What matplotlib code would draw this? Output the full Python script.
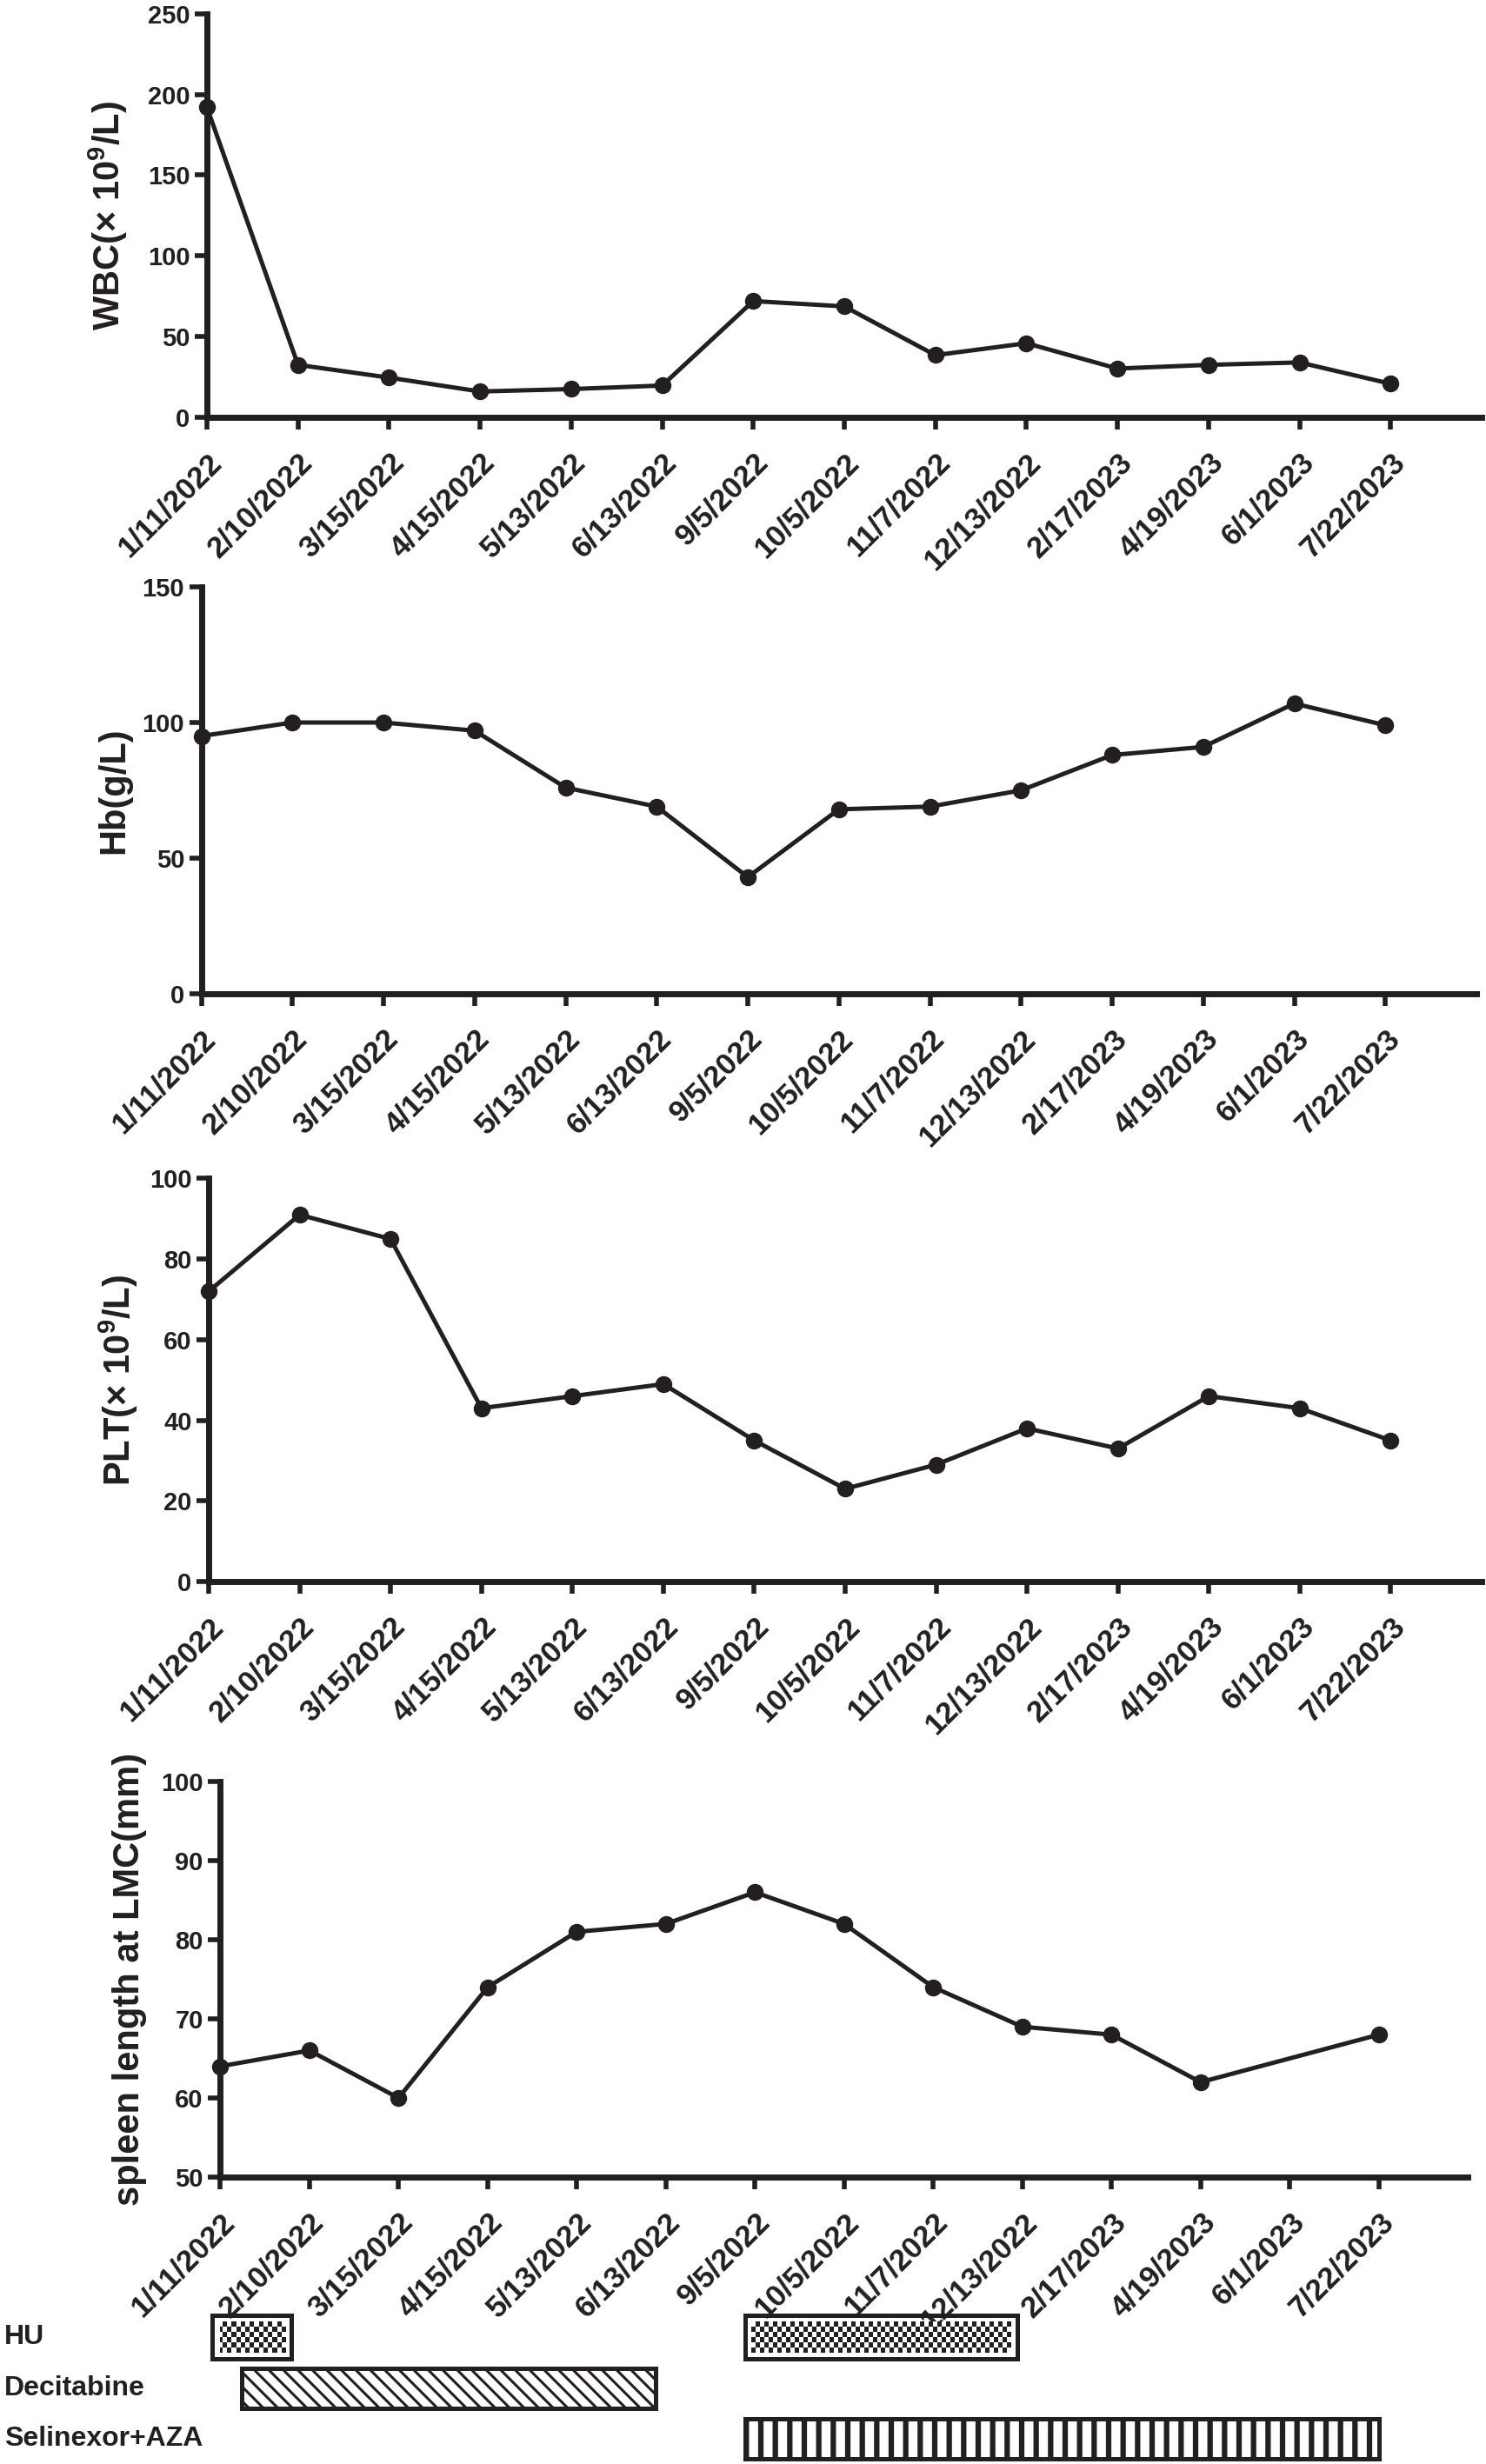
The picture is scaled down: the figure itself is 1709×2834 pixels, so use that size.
import matplotlib
matplotlib.use('Agg')
import matplotlib.pyplot as plt
import numpy as np
from matplotlib.colors import ListedColormap
from matplotlib.patches import Rectangle
from matplotlib.transforms import ScaledTranslation, blended_transform_factory

# ---------------- data ----------------
dates = ['1/11/2022', '2/10/2022', '3/15/2022', '4/15/2022', '5/13/2022',
         '6/13/2022', '9/5/2022', '10/5/2022', '11/7/2022', '12/13/2022',
         '2/17/2023', '4/19/2023', '6/1/2023', '7/22/2023']
wbc = [192, 32.5, 24.6, 16, 17.5, 19.7, 72, 68.7, 38.5, 45.9, 30.2, 32.5, 34, 20.8]
hb = [95, 100, 100, 97, 76, 69, 43, 68, 69, 75, 88, 91, 107, 99]
plt_count = [72, 91, 85, 43, 46, 49, 35, 23, 29, 38, 33, 46, 43, 35]
spleen = [64, 66, 60, 74, 81, 82, 86, 82, 74, 69, 68, 62, None, 68]

treatments = ['HU', 'Decitabine', 'Selinexor+AZA']
# treatment periods expressed in date-tick positions
hu_start, hu_end = [-0.09, 5.89], [0.80, 8.94]
dec_start, dec_end = [0.24], [4.88]
sel_start, sel_end = [5.89], [13.0]

wbc_ticks = [0, 50, 100, 150, 200, 250]
hb_ticks = [0, 50, 100, 150]
plt_ticks = [0, 20, 40, 60, 80, 100]
spleen_ticks = [50, 60, 70, 80, 90, 100]

# ---------------- style ----------------
FONT = ['Liberation Sans', 'DejaVu Sans']
plt.rcParams['font.family'] = FONT
plt.rcParams['font.weight'] = 'bold'
plt.rcParams['mathtext.fontset'] = 'custom'
plt.rcParams['mathtext.rm'] = 'Liberation Sans:bold'
plt.rcParams['mathtext.bf'] = 'Liberation Sans:bold'
plt.rcParams['mathtext.it'] = 'Liberation Sans:bold'
plt.rcParams['mathtext.default'] = 'bf'

C = '#231f20'
FIG_W, FIG_H, DPI = 1709, 2834, 100

fig = plt.figure(figsize=(FIG_W / DPI, FIG_H / DPI), dpi=DPI)
fig.patch.set_facecolor('white')


def px_rect(l, r, t, b):
    return [l / FIG_W, 1 - b / FIG_H, (r - l) / FIG_W, (b - t) / FIG_H]


panels = [
    (wbc, 'WBC(× 10$^{9}$/L)', (0, 250), wbc_ticks, (238, 1704, 15.7, 480), 149),
    (hb, 'Hb(g/L)', (0, 150), hb_ticks, (231.5, 1698, 675, 1143), 151),
    (plt_count, 'PLT(× 10$^{9}$/L)', (0, 100), plt_ticks, (240, 1704, 1355.5, 1819), 161),
    (spleen, 'spleen length at LMC(mm)', (50, 100), spleen_ticks, (253.3, 1688.3, 2049, 2504), 169),
]

x = np.arange(len(dates))
label_shift = ScaledTranslation(7 / DPI, 0, fig.dpi_scale_trans)

for vals, ylabel, ylim, yticks, rect, lab_x in panels:
    l, r, t, b = rect
    ax = fig.add_axes(px_rect(l, r, t, b))
    v = np.array([np.nan if q is None else q for q in vals], dtype=float)
    m = ~np.isnan(v)
    ax.plot(x[m], v[m], '-o', color=C, lw=3.6, ms=13, clip_on=False, zorder=5)
    ax.set_xlim(0, 14)
    ax.set_ylim(*ylim)
    for s in ['top', 'right']:
        ax.spines[s].set_visible(False)
    for s in ['left', 'bottom']:
        ax.spines[s].set_linewidth(5)
        ax.spines[s].set_color(C)
        ax.spines[s].set_capstyle('projecting')
    ax.set_xticks(x)
    ax.set_xticklabels(dates, rotation=45, ha='right', va='top',
                       rotation_mode='anchor', fontsize=25,
                       fontweight='bold', color=C)
    for lab in ax.get_xticklabels():
        lab.set_transform(lab.get_transform() + label_shift)
    ax.set_yticks(yticks)
    ax.set_yticklabels([str(q) for q in yticks], fontsize=21,
                       fontweight='bold', color=C)
    ax.tick_params(axis='both', direction='out', length=10, width=4, color=C)
    ax.tick_params(axis='x', pad=15)
    ax.tick_params(axis='y', pad=4)
    ax.set_ylabel(ylabel, fontsize=30, fontweight='bold', color=C)
    ax.yaxis.set_label_coords((lab_x - l) / (r - l), 0.5)

# ---------------- treatment bars ----------------
TL, TR, TT, TB = 253.3, 1688.3, 2659, 2834.5
tax = fig.add_axes(px_rect(TL, TR, TT, TB))
tax.set_xlim(0, 14)
tax.set_ylim(3.5, 0.5)
tax.axis('off')
ppu_x = (TR - TL) / 14
ppu_y = (TB - TT) / 3

# HU: checker pattern
h_hu = 0.85
checker = ListedColormap(['white', C])
for s, e in zip(hu_start, hu_end):
    inset_x = 7 / ppu_x
    inset_y = 7 / ppu_y
    ncol = max(2, int(round((e - s - 2 * inset_x) * ppu_x / 5)))
    nrow = max(2, int(round((h_hu - 2 * inset_y) * ppu_y / 5.5)))
    ii, jj = np.indices((nrow, ncol))
    pattern = (ii + jj) % 2
    tax.imshow(pattern, cmap=checker, interpolation='nearest', aspect='auto',
               extent=(s + inset_x, e - inset_x, 1 + h_hu / 2 - inset_y, 1 - h_hu / 2 + inset_y),
               zorder=1)
    tax.add_patch(Rectangle((s, 1 - h_hu / 2), e - s, h_hu, fill=False,
                            lw=3.6, ec=C, zorder=3, clip_on=False))

h_bar = 0.79
for s, e in zip(dec_start, dec_end):
    p = Rectangle((s, 2 - h_bar / 2), e - s, h_bar, facecolor='white', ec=C,
                  lw=3.6, hatch='\\\\', zorder=3, clip_on=False)
    try:
        p.set_hatch_linewidth(2.2)
    except AttributeError:
        pass
    tax.add_patch(p)

for s, e in zip(sel_start, sel_end):
    p = Rectangle((s, 3 - h_bar / 2), e - s, h_bar, facecolor='white', ec=C,
                  lw=3.6, hatch='|', zorder=3, clip_on=False)
    try:
        p.set_hatch_linewidth(4.5)
    except AttributeError:
        pass
    tax.add_patch(p)

tax.set_xlim(0, 14)
tax.set_ylim(3.5, 0.5)

trans = blended_transform_factory(fig.transFigure, tax.transData)
for i, name in enumerate(treatments):
    tax.text(5 / FIG_W, i + 1, name, transform=trans, ha='left', va='center',
             fontsize=23, fontweight='bold', color=C)

fig.savefig('out.png', dpi=DPI, facecolor='white')
